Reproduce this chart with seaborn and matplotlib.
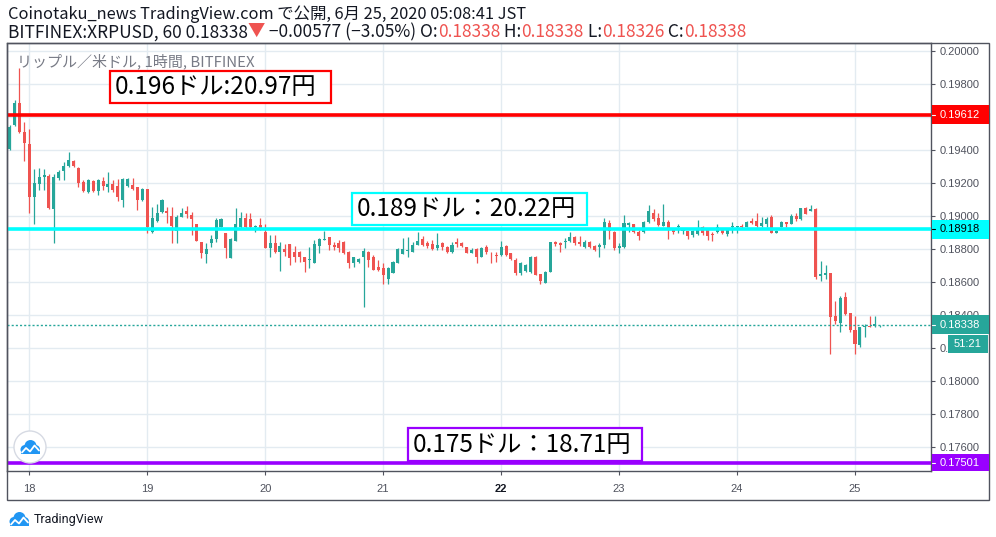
import numpy as np
import pandas as pd
import seaborn as sns
import matplotlib
matplotlib.use("Agg")
import matplotlib.pyplot as plt
from matplotlib.patches import Rectangle, Circle
from matplotlib.lines import Line2D
from matplotlib.transforms import IdentityTransform

# BITFINEX XRPUSD, 1h candles, 17日 20:00 -> 25日 05:00 (JST)
opens = [
    0.19402, 0.19550, 0.19683, 0.19509, 0.19434, 0.19115, 0.19190, 0.19234, 0.19242, 0.19039,
    0.19226, 0.19273, 0.19301, 0.19331, 0.19287, 0.19206, 0.19145, 0.19212, 0.19151, 0.19210,
    0.19176, 0.19190, 0.19180, 0.19095, 0.19180, 0.19184, 0.19172, 0.19095, 0.19164, 0.18903,
    0.18968, 0.19024, 0.19028, 0.18998, 0.18909, 0.18990, 0.19028, 0.19006, 0.18950, 0.18839,
    0.18768, 0.18836, 0.18859, 0.18933, 0.18897, 0.18745, 0.18848, 0.18933, 0.18988, 0.18978,
    0.18929, 0.18943, 0.18903, 0.18802, 0.18836, 0.18782, 0.18798, 0.18828, 0.18778, 0.18778,
    0.18751, 0.18731, 0.18715, 0.18818, 0.18854, 0.18869, 0.18822, 0.18836, 0.18842, 0.18782,
    0.18715, 0.18721, 0.18751, 0.18782, 0.18751, 0.18687, 0.18681, 0.18614, 0.18654, 0.18711,
    0.18768, 0.18788, 0.18782, 0.18822, 0.18857, 0.18836, 0.18827, 0.18802, 0.18833, 0.18812,
    0.18782, 0.18842, 0.18833, 0.18812, 0.18776, 0.18798, 0.18751, 0.18812, 0.18776, 0.18761,
    0.18762, 0.18816, 0.18772, 0.18731, 0.18651, 0.18667, 0.18661, 0.18751, 0.18647, 0.18594,
    0.18661, 0.18842, 0.18836, 0.18839, 0.18847, 0.18869, 0.18842, 0.18812, 0.18842, 0.18818,
    0.18812, 0.18822, 0.18957, 0.18903, 0.18806, 0.18812, 0.18944, 0.18948, 0.18903, 0.18903,
    0.18964, 0.19014, 0.18984, 0.18939, 0.18960, 0.18913, 0.18930, 0.18909, 0.18909, 0.18883,
    0.18889, 0.18933, 0.18913, 0.18886, 0.18899, 0.18913, 0.18889, 0.18930, 0.18930, 0.18937,
    0.18933, 0.18968, 0.18968, 0.18939, 0.18950, 0.18990, 0.18897, 0.18933, 0.18960, 0.18950,
    0.18998, 0.18980, 0.19045, 0.19030, 0.19039, 0.18636, 0.18641, 0.18651, 0.18392, 0.18351,
    0.18505, 0.18408, 0.18307, 0.18216, 0.18323, 0.18331, 0.18331, 0.18338,
]
highs = [
    0.19550, 0.19701, 0.19895, 0.19570, 0.19523, 0.19281, 0.19287, 0.19283, 0.19251, 0.19253,
    0.19277, 0.19327, 0.19386, 0.19337, 0.19293, 0.19216, 0.19220, 0.19216, 0.19220, 0.19236,
    0.19267, 0.19216, 0.19220, 0.19226, 0.19230, 0.19230, 0.19176, 0.19166, 0.19164, 0.19054,
    0.19071, 0.19099, 0.19054, 0.19054, 0.19004, 0.19044, 0.19059, 0.19024, 0.18950, 0.18842,
    0.18833, 0.18883, 0.18984, 0.18984, 0.18897, 0.18863, 0.19045, 0.19024, 0.19018, 0.19014,
    0.18943, 0.18988, 0.18950, 0.18883, 0.18883, 0.18842, 0.18828, 0.18828, 0.18818, 0.18788,
    0.18751, 0.18812, 0.18853, 0.18867, 0.18909, 0.18871, 0.18842, 0.18853, 0.18847, 0.18788,
    0.18751, 0.18742, 0.18802, 0.18786, 0.18762, 0.18731, 0.18711, 0.18687, 0.18727, 0.18802,
    0.18863, 0.18873, 0.18842, 0.18903, 0.18877, 0.18847, 0.18853, 0.18893, 0.18842, 0.18816,
    0.18842, 0.18863, 0.18842, 0.18812, 0.18802, 0.18802, 0.18812, 0.18822, 0.18782, 0.18782,
    0.18847, 0.18822, 0.18772, 0.18742, 0.18721, 0.18707, 0.18756, 0.18756, 0.18647, 0.18667,
    0.18842, 0.18848, 0.18842, 0.18863, 0.18903, 0.18877, 0.18877, 0.18853, 0.18847, 0.18822,
    0.18833, 0.18984, 0.18974, 0.18909, 0.18836, 0.19004, 0.18964, 0.18948, 0.18913, 0.18970,
    0.19065, 0.19040, 0.19014, 0.19069, 0.18974, 0.18913, 0.18950, 0.18917, 0.18909, 0.18913,
    0.18974, 0.18937, 0.18913, 0.18903, 0.18950, 0.18917, 0.18917, 0.18963, 0.18937, 0.18950,
    0.18968, 0.18984, 0.19018, 0.18990, 0.18990, 0.19004, 0.18913, 0.18968, 0.18960, 0.19010,
    0.19014, 0.19045, 0.19051, 0.19065, 0.19045, 0.18725, 0.18701, 0.18651, 0.18483, 0.18513,
    0.18536, 0.18412, 0.18392, 0.18327, 0.18342, 0.18392, 0.18392, 0.18338,
]
lows = [
    0.19398, 0.19543, 0.19503, 0.19333, 0.19014, 0.18950, 0.19156, 0.19156, 0.19039, 0.18836,
    0.19216, 0.19216, 0.19293, 0.19293, 0.19176, 0.19145, 0.19139, 0.19143, 0.19125, 0.19156,
    0.19145, 0.19145, 0.19091, 0.19054, 0.19176, 0.19156, 0.19034, 0.19091, 0.18897, 0.18897,
    0.18964, 0.19014, 0.18956, 0.18836, 0.18836, 0.18990, 0.18984, 0.18883, 0.18847, 0.18742,
    0.18715, 0.18812, 0.18842, 0.18933, 0.18742, 0.18742, 0.18848, 0.18924, 0.18924, 0.18924,
    0.18903, 0.18913, 0.18802, 0.18751, 0.18776, 0.18665, 0.18757, 0.18701, 0.18721, 0.18721,
    0.18661, 0.18681, 0.18711, 0.18776, 0.18853, 0.18792, 0.18792, 0.18782, 0.18768, 0.18681,
    0.18691, 0.18715, 0.18448, 0.18687, 0.18671, 0.18665, 0.18586, 0.18586, 0.18651, 0.18711,
    0.18768, 0.18751, 0.18782, 0.18822, 0.18816, 0.18802, 0.18792, 0.18792, 0.18792, 0.18776,
    0.18772, 0.18812, 0.18812, 0.18772, 0.18772, 0.18715, 0.18751, 0.18768, 0.18711, 0.18721,
    0.18756, 0.18756, 0.18731, 0.18641, 0.18641, 0.18661, 0.18651, 0.18641, 0.18586, 0.18590,
    0.18661, 0.18816, 0.18782, 0.18802, 0.18842, 0.18822, 0.18816, 0.18802, 0.18802, 0.18788,
    0.18748, 0.18802, 0.18857, 0.18792, 0.18776, 0.18806, 0.18899, 0.18893, 0.18853, 0.18893,
    0.18954, 0.18968, 0.18939, 0.18939, 0.18859, 0.18889, 0.18897, 0.18889, 0.18859, 0.18873,
    0.18883, 0.18883, 0.18853, 0.18848, 0.18893, 0.18889, 0.18879, 0.18893, 0.18893, 0.18924,
    0.18929, 0.18948, 0.18933, 0.18933, 0.18933, 0.18893, 0.18893, 0.18929, 0.18929, 0.18950,
    0.18970, 0.18974, 0.19008, 0.19030, 0.18616, 0.18606, 0.18614, 0.18160, 0.18342, 0.18297,
    0.18400, 0.18297, 0.18160, 0.18206, 0.18267, 0.18323, 0.18327, 0.18326,
]
closes = [
    0.19539, 0.19683, 0.19509, 0.19442, 0.19115, 0.19200, 0.19233, 0.19247, 0.19045, 0.19233,
    0.19263, 0.19301, 0.19337, 0.19301, 0.19200, 0.19150, 0.19216, 0.19150, 0.19216, 0.19180,
    0.19192, 0.19156, 0.19115, 0.19220, 0.19220, 0.19160, 0.19095, 0.19160, 0.18929, 0.18988,
    0.19014, 0.19095, 0.19016, 0.18937, 0.18994, 0.19014, 0.19008, 0.18982, 0.18847, 0.18772,
    0.18796, 0.18859, 0.18974, 0.18978, 0.18806, 0.18857, 0.18950, 0.18988, 0.18933, 0.18929,
    0.18937, 0.18923, 0.18802, 0.18836, 0.18782, 0.18818, 0.18782, 0.18745, 0.18751, 0.18751,
    0.18717, 0.18737, 0.18828, 0.18857, 0.18857, 0.18822, 0.18812, 0.18806, 0.18772, 0.18711,
    0.18748, 0.18736, 0.18786, 0.18731, 0.18671, 0.18671, 0.18641, 0.18681, 0.18721, 0.18796,
    0.18798, 0.18792, 0.18822, 0.18847, 0.18822, 0.18816, 0.18796, 0.18822, 0.18808, 0.18782,
    0.18822, 0.18827, 0.18816, 0.18776, 0.18792, 0.18751, 0.18802, 0.18782, 0.18772, 0.18756,
    0.18812, 0.18762, 0.18736, 0.18654, 0.18711, 0.18701, 0.18751, 0.18641, 0.18606, 0.18661,
    0.18839, 0.18827, 0.18822, 0.18848, 0.18869, 0.18833, 0.18827, 0.18842, 0.18812, 0.18792,
    0.18822, 0.18962, 0.18909, 0.18806, 0.18816, 0.18954, 0.18954, 0.18899, 0.18879, 0.18964,
    0.19028, 0.18980, 0.18943, 0.18960, 0.18919, 0.18903, 0.18937, 0.18917, 0.18879, 0.18907,
    0.18913, 0.18893, 0.18879, 0.18883, 0.18933, 0.18893, 0.18913, 0.18937, 0.18937, 0.18930,
    0.18960, 0.18954, 0.18939, 0.18957, 0.18980, 0.18897, 0.18909, 0.18960, 0.18950, 0.18998,
    0.18978, 0.19045, 0.19010, 0.19041, 0.18627, 0.18647, 0.18653, 0.18388, 0.18364, 0.18499,
    0.18404, 0.18307, 0.18222, 0.18323, 0.18333, 0.18323, 0.18342, 0.18338,
]

day_labels = ["18", "19", "20", "21", "22", "23", "24", "25"]
first_day_index = 4  # candle index of 18日 00:00
price_ticks = [0.176, 0.178, 0.180, 0.182, 0.184, 0.186, 0.188,
               0.190, 0.192, 0.194, 0.196, 0.198, 0.200]

level_prices = [0.19612, 0.18918, 0.17501]
level_colors = ["#ff0000", "#00ffff", "#9900ff"]
level_text_colors = ["white", "black", "white"]
level_notes = ["0.196ドル:20.97円", "0.189ドル：20.22円", "0.175ドル：18.71円"]
last_price = 0.18338
change, change_pct = -0.00577, -3.05
countdown = "51:21"

W, H = 996, 537
UP, DOWN = "#26a69a", "#ef5350"
GRID = "#e3ebf1"
FRAME = "#50535e"
TXT = "#131722"
AXTXT = "#50535e"

sns.set_theme(style="white")
plt.rcParams["font.family"] = ["Noto Sans CJK JP", "DejaVu Sans"]

df = pd.DataFrame({"open": opens, "high": highs, "low": lows, "close": closes})
df["x"] = np.arange(len(df))
colors = np.where(df["close"] >= df["open"], UP, DOWN)

fig = plt.figure(figsize=(W / 100, H / 100), dpi=100)
left, right, top, bottom = 7, 931, 42.7, 471
ax = fig.add_axes([left / W, 1 - bottom / H, (right - left) / W, (bottom - top) / H])
ax.set_facecolor("white")

# candles
ax.vlines(df["x"], df["low"], df["high"], colors=colors, lw=0.9, zorder=2)
body = (df["close"] - df["open"]).abs().clip(lower=0.00002)
ax.bar(df["x"], body, bottom=df[["open", "close"]].min(axis=1), width=0.62,
       color=colors, lw=0, zorder=3)

for p, c in zip(level_prices, level_colors):
    ax.axhline(p, color=c, lw=2.6, zorder=5)
ax.axhline(last_price, color=UP, lw=1, ls=(0, (1.5, 1.5)), zorder=4)

ax.set_xlim(-0.54, 187.46)
ax.set_ylim(0.17453, 0.20048)

ax.yaxis.tick_right()
ax.set_yticks(price_ticks)
# 0.19600 sits fully under the red price label, so it is not printed
ax.set_yticklabels(["" if abs(v - 0.196) < 1e-9 else f"{v:.5f}" for v in price_ticks])
day_ticks = first_day_index + 24 * np.arange(len(day_labels))
ax.set_xticks(day_ticks)
ax.set_xticklabels(day_labels)
ax.tick_params(axis="both", labelsize=8, labelcolor=AXTXT, color=AXTXT,
               length=3, width=0.8, direction="out")
ax.tick_params(axis="y", pad=3, right=True, left=False)
ax.tick_params(axis="x", pad=6, bottom=True)
for lbl in ax.get_xticklabels() + ax.get_yticklabels():
    lbl.set_fontfamily("Liberation Sans")
ax.get_xticklabels()[4].set_fontweight("bold")
ax.get_xticklabels()[4].set_color(TXT)
ax.grid(True, color=GRID, lw=1)
ax.set_axisbelow(True)
for s in ax.spines.values():
    s.set_color(FRAME)
    s.set_linewidth(1)

ident = IdentityTransform()
# outer frame round chart + price/time scales
fig.add_artist(Rectangle((7, H - 500), 989 - 7, 500 - 42.7, transform=ident,
                         fill=False, ec=FRAME, lw=1, zorder=1))


def price_box(p, face, tcolor, text):
    yd = ax.transData.transform((0, p))[1]
    y0 = max(yd - 9.5, H - bottom + 0.5)
    y1 = yd + 9.5
    fig.add_artist(Rectangle((931.5, y0), 57, y1 - y0, transform=ident,
                             fc=face, ec="none", zorder=6))
    fig.add_artist(Line2D([932, 935], [yd, yd], color=tcolor, lw=0.8,
                          transform=ident, zorder=7))
    fig.text(940 / W, yd / H, text, color=tcolor, fontsize=8, family="Liberation Sans",
             va="center", ha="left", zorder=7)
    return yd


for p, c, tc in zip(level_prices, level_colors, level_text_colors):
    price_box(p, c, tc, f"{p:.5f}")
yl = price_box(last_price, UP, "white", f"{last_price:.5f}")
fig.add_artist(Rectangle((948, yl - 28.5), 40, 18, transform=ident, fc=UP, ec="none", zorder=6))
fig.text(968 / W, (yl - 19.5) / H, countdown, color="white", fontsize=8,
         family="Liberation Sans", va="center", ha="center", zorder=7)

# hand-drawn notes
note_boxes = [(110, 71, 331, 103), (352, 193, 587, 225), (408, 428, 642, 461)]
for (x0, y0, x1, y1), c, note in zip(note_boxes, level_colors, level_notes):
    fig.add_artist(Rectangle((x0, H - y1), x1 - x0, y1 - y0, transform=ident,
                             fc="white", ec=c, lw=1.6, zorder=6))
    fig.text((x0 + 5) / W, 1 - (y0 + y1) / 2 / H, note, color="black", fontsize=17.5,
             va="center", ha="left", zorder=7)

fig.text(17 / W, 1 - 66.7 / H, "リップル／米ドル, 1時間, BITFINEX", color="#787b86",
         fontsize=10.8, va="baseline", ha="left")

# header
renderer = fig.canvas.get_renderer()


def chain(x, y, parts, size):
    for s, c in parts:
        t = fig.text(x / W, 1 - y / H, s, color=c, fontsize=size, va="baseline", ha="left")
        x = t.get_window_extent(renderer).x1


chain(8, 19.3, [("Coinotaku_news TradingView.com で公開, 6月 25, 2020 05:08:41 JST", TXT)], 11.8)
o, h, l, c = opens[-1], highs[-1], lows[-1], closes[-1]
chain(8, 37.3, [
    (f"BITFINEX:XRPUSD, 60 {c:.5f}", TXT), ("▼", DOWN),
    (f" −{abs(change):.5f} (−{abs(change_pct):.2f}%) O:", TXT), (f"{o:.5f}", DOWN),
    (" H:", TXT), (f"{h:.5f}", DOWN), (" L:", TXT), (f"{l:.5f}", DOWN),
    (" C:", TXT), (f"{c:.5f}", DOWN),
], 12.5)


def tv_logo(cx, cy, s, color="#2196f3"):
    for (dx, dy), r in [((-5, 1.5), 4.5), ((0.5, -2), 6), ((5.5, 1.5), 4.5)]:
        fig.add_artist(Circle((cx + dx * s, H - (cy + dy * s)), r * s, transform=ident,
                              fc=color, ec="none", zorder=8))
    fig.add_artist(Rectangle((cx - 9 * s, H - (cy + 6 * s)), 19 * s, 5 * s, transform=ident,
                             fc=color, ec="none", zorder=8))
    zx = [-8, -4, 0, 4.5, 9]
    zy = [4.5, 0, 3.5, -2.5, 2.5]
    fig.add_artist(Line2D([cx + v * s for v in zx], [H - (cy + v * s) for v in zy],
                          color="white", lw=1.3 * s, transform=ident, zorder=9))


fig.add_artist(Circle((30, H - 447), 16, transform=ident, fc="white", ec="#d6dae3",
                      lw=1, zorder=7))
tv_logo(30, 448, 1.0)
tv_logo(19, 520, 1.0)
fig.text(34 / W, 1 - 519 / H, "TradingView", color=TXT, fontsize=9,
         family="Roboto", va="center", ha="left")

fig.savefig("out.png", dpi=100, facecolor="white")
